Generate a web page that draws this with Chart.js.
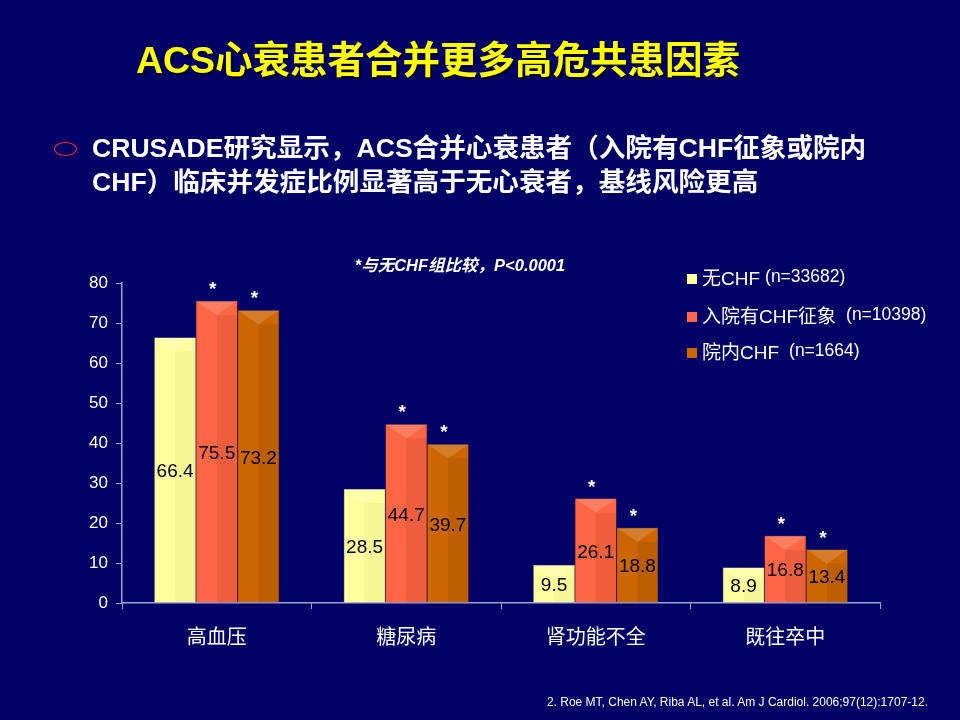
<!DOCTYPE html>
<html>
<head>
<meta charset="utf-8">
<script src="https://cdn.jsdelivr.net/npm/chart.js@4"></script>
<style>
  html, body { margin: 0; padding: 0; }
  body { width: 960px; height: 720px; background: #000066; position: relative; overflow: hidden;
         font-family: "Liberation Sans", "Noto Sans CJK SC", sans-serif; color: #fff; }
  #chartBox { position: absolute; left: 0; top: 0; width: 960px; height: 720px; }
  .title { position: absolute; left: 0; top: 29px; width: 876px; text-align: center; color: #ffff00;
           font: bold 37.5px "Liberation Sans", "Noto Sans CJK SC", sans-serif; text-shadow: 2px 2px 1px #000022; }
  .bullet { position: absolute; left: 92px; top: 131px; width: 860px; font: bold 26.6px "Liberation Sans", "Noto Sans CJK SC", sans-serif;
            line-height: 34px; white-space: nowrap; }
  .mark { position: absolute; left: 54px; top: 142px; width: 21px; height: 12px; border: 1.5px solid #e03030; border-radius: 50%; }
  .note { position: absolute; left: 260px; top: 252px; width: 400px; text-align: center;
          font: italic bold 16.5px "Liberation Sans", "Noto Sans CJK SC", sans-serif; }
  .ref { position: absolute; right: 32px; top: 695px; font: 12px "Liberation Sans", sans-serif; }
</style>
</head>
<body>
<div id="chartBox"><canvas id="myChart"></canvas></div>
<div class="title">ACS心衰患者合并更多高危共患因素</div>
<div class="mark"></div>
<div class="bullet">CRUSADE研究显示，ACS合并心衰患者（入院有CHF征象或院内<br>CHF）临床并发症比例显著高于无心衰者，基线风险更高</div>
<div class="note">*与无CHF组比较，P&lt;0.0001</div>
<div class="ref">2. Roe MT, Chen AY, Riba AL, et al. Am J Cardiol. 2006;97(12):1707-12.</div>
<script>
  const categories = ['高血压', '糖尿病', '肾功能不全', '既往卒中']
  const noChf = [66.4, 28.5, 9.5, 8.9]
  const admissionChf = [75.5, 44.7, 26.1, 16.8]
  const inHospitalChf = [73.2, 39.7, 18.8, 13.4]
  const seriesNames = ['无CHF', '入院有CHF征象', '院内CHF']
  const seriesN = ['(n=33682)', '(n=10398)', '(n=1664)']
  const yTicks = [0, 10, 20, 30, 40, 50, 60, 70, 80]

  const colors = ['#ffffa0', '#ff6644', '#cc6600']
  const axisColor = '#a0a0d0'

  // bevel look, value labels, asterisks and legend
  const decorate = {
    id: 'decorate',
    afterDatasetsDraw(chart) {
      const ctx = chart.ctx
      ctx.save()
      chart.data.datasets.forEach((ds, di) => {
        chart.getDatasetMeta(di).data.forEach((bar, i) => {
          const l = bar.x - bar.width / 2, r = bar.x + bar.width / 2
          const t = bar.y, b = bar.base
          const bev = Math.min(14, (b - t) / 2)
          // top light chevron
          ctx.fillStyle = 'rgba(255,255,255,0.16)'
          ctx.beginPath()
          ctx.moveTo(l, t); ctx.lineTo(r, t); ctx.lineTo(bar.x, t + bev)
          ctx.closePath(); ctx.fill()
          // right darker side
          ctx.fillStyle = di === 0 ? 'rgba(120,100,0,0.06)' : 'rgba(0,0,0,0.07)'
          ctx.fillRect(bar.x, t + bev, r - bar.x, b - t - bev)
          // value
          ctx.fillStyle = '#000'
          ctx.font = '19px "Liberation Sans", Arial, sans-serif'
          ctx.textAlign = 'center'
          ctx.textBaseline = 'middle'
          ctx.fillText(String(ds.data[i]), bar.x, (t + b) / 2 + 2)
          if (di > 0) {
            ctx.fillStyle = '#fff'
            ctx.font = 'bold 19px "Liberation Sans", Arial, sans-serif'
            ctx.fillText('*', bar.x - 4, t - 11)
          }
        })
      })
      ctx.restore()
    },
    afterDraw(chart) {
      const ctx = chart.ctx
      ctx.save()
      const rowY = [279, 317, 353]
      seriesNames.forEach((name, i) => {
        const x = 687, y = rowY[i]
        ctx.fillStyle = colors[i]
        ctx.fillRect(x, y - 5, 10, 10)
        ctx.fillStyle = '#fff'
        ctx.textBaseline = 'middle'
        ctx.textAlign = 'left'
        ctx.font = '19px "Liberation Sans", "Noto Sans CJK SC", sans-serif'
        ctx.fillText(name, x + 15, y + 1)
        const w = ctx.measureText(name).width
        ctx.font = '17.5px "Liberation Sans", sans-serif'
        ctx.fillText(seriesN[i], x + 20 + w + (i === 0 ? 0 : 5), y - 2)
      })
      ctx.restore()
    }
  }

  let myChart = new Chart(document.getElementById('myChart'), {
    type: 'bar',
    data: {
      labels: categories,
      datasets: [
        { label: seriesNames[0], data: noChf, backgroundColor: colors[0], borderColor: '#c8c080', borderWidth: 0.5 },
        { label: seriesNames[1], data: admissionChf, backgroundColor: colors[1], borderColor: '#b04020', borderWidth: 0.5 },
        { label: seriesNames[2], data: inHospitalChf, backgroundColor: colors[2], borderColor: '#884000', borderWidth: 0.5 }
      ]
    },
    plugins: [decorate],
    options: {
      responsive: true,
      maintainAspectRatio: false,
      animation: false,
      layout: { padding: { left: 82, right: 80, top: 283, bottom: 67 } },
      categoryPercentage: 0.66,
      barPercentage: 1.0,
      plugins: {
        legend: { display: false },
        tooltip: { enabled: false }
      },
      scales: {
        x: {
          afterFit: (axis) => { axis.height = 50 },
          grid: { display: true, drawOnChartArea: false, color: axisColor, tickLength: 6, offset: true },
          border: { color: axisColor, width: 1.5 },
          ticks: { color: '#fff', padding: 15, font: { size: 20, family: '"Noto Sans CJK SC", sans-serif' } }
        },
        y: {
          min: 0,
          max: 80,
          afterFit: (axis) => { axis.width = 40 },
          afterBuildTicks: (axis) => { axis.ticks = yTicks.map(v => ({ value: v })) },
          grid: { display: true, drawOnChartArea: false, color: axisColor, tickLength: 6 },
          border: { color: axisColor, width: 1.5 },
          ticks: { color: '#fff', padding: 8, font: { size: 17, family: '"Liberation Sans", Arial, sans-serif' } }
        }
      }
    }
  })
</script>
</body>
</html>
